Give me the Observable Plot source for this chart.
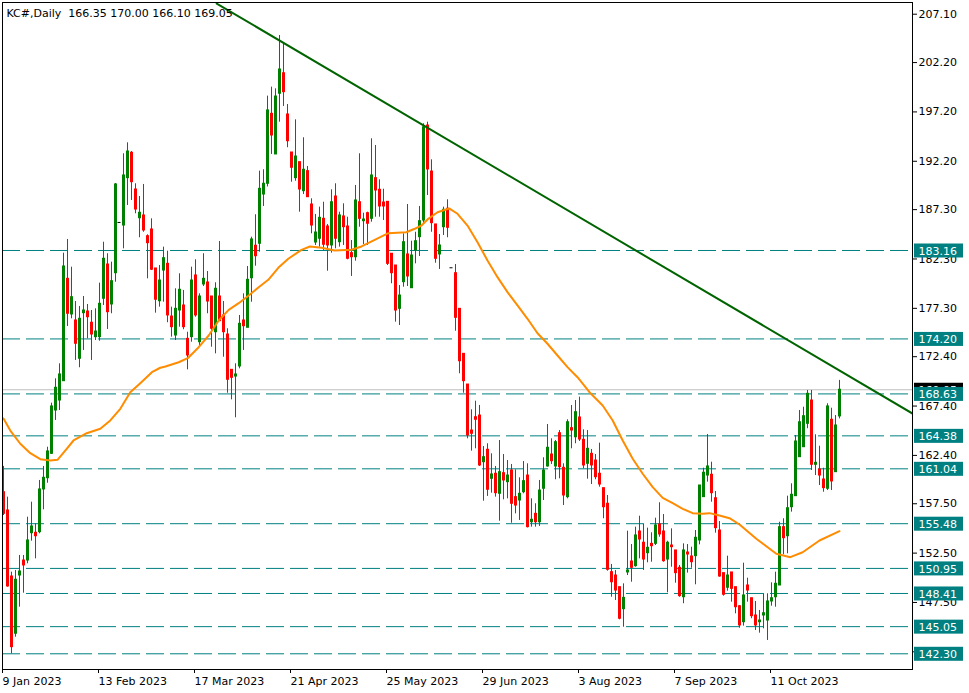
<!DOCTYPE html>
<html>
<head>
<meta charset="utf-8">
<script src="https://cdn.jsdelivr.net/npm/d3@7"></script>
<script src="https://cdn.jsdelivr.net/npm/@observablehq/plot@0.6"></script>
<style>
html, body { margin: 0; padding: 0; background: #fff; overflow: hidden; }
svg { display: block; }
svg text { white-space: pre; }
</style>
</head>
<body>
<div id="chart"></div>
<script>
// ---- data (KC#, daily, 9 Jan – 24 Oct 2023) ----
const symbolName = "KC#,Daily";

const opens = [
  158.67,156.82,150.13,144.33,150.23,151.75,151.75,154.52,154.56,154.62,
  158.95,160.09,162.56,166.95,167.96,169.92,180.29,176.68,176.07,172.19,
  176.81,176.98,175.84,174.38,174.38,178.27,181.74,177.69,180.86,186.00,
  185.69,190.49,193.06,189.34,186.43,186.71,184.61,185.29,181.34,178.02,
  181.13,181.81,176.47,174.55,177.08,177.59,174.21,174.38,180.63,173.87,
  179.72,179.92,178.50,174.88,178.50,176.58,174.65,171.07,170.39,171.41,
  176.07,175.33,180.35,183.64,183.84,188.83,189.92,197.01,192.89,199.04,
  201.12,196.94,193.09,190.49,192.11,189.17,191.20,187.82,183.97,184.35,
  186.37,185.59,183.67,188.63,184.00,186.61,185.59,182.89,182.48,188.05,
  186.13,186.94,186.37,190.49,189.31,188.02,188.09,182.83,181.64,177.25,
  179.95,182.76,179.34,183.16,184.51,186.20,195.82,191.16,185.80,182.76,
  185.52,187.39,181.41,180.86,177.25,172.69,169.58,164.92,166.27,166.44,
  161.71,162.97,160.03,160.54,158.51,160.60,159.69,160.87,158.17,157.83,
  158.67,160.36,155.63,156.48,155.63,159.02,161.28,162.49,161.28,164.65,
  161.14,158.17,165.16,164.24,166.24,163.98,161.55,162.56,161.88,160.54,
  159.08,157.50,150.57,150.23,149.05,146.82,150.54,151.65,151.18,154.69,
  153.55,152.49,153.44,153.44,155.40,154.69,151.85,153.27,152.77,151.01,
  148.03,152.56,152.16,152.19,153.78,158.17,160.36,160.44,158.06,154.79,
  150.47,148.99,150.54,149.05,147.12,145.50,149.22,147.93,146.18,145.50,
  146.18,145.67,147.60,148.03,149.22,155.13,154.21,157.15,158.27,162.22,
  163.23,165.60,167.96,161.45,160.97,159.96,159.02,166.01,160.70,166.35
];
const highs = [
  161.28,158.17,150.57,150.74,152.26,152.26,156.14,157.66,155.47,159.86,
  161.28,163.23,167.69,170.16,171.68,182.89,184.28,181.47,177.99,177.49,
  178.50,177.69,177.08,177.25,179.85,184.00,182.83,181.98,189.95,186.00,
  192.96,194.07,193.19,189.92,188.63,189.85,184.75,186.37,181.34,181.64,
  183.50,183.09,177.42,179.28,180.80,179.11,174.88,181.47,182.22,178.77,
  182.83,181.03,178.50,179.89,184.07,177.99,175.23,171.07,171.68,176.58,
  178.77,181.54,184.51,186.78,191.20,191.34,198.80,199.71,199.54,204.94,
  204.16,197.95,193.09,196.40,192.11,194.58,191.67,188.40,186.81,187.55,
  188.05,185.80,189.31,189.92,187.04,187.89,186.53,184.17,189.75,192.96,
  186.94,187.04,194.48,193.80,190.32,189.37,188.09,182.83,181.64,179.61,
  184.85,187.82,184.10,185.01,187.62,196.00,196.16,192.35,185.80,184.78,
  187.55,188.30,181.41,181.74,177.25,172.69,169.58,167.02,167.89,167.46,
  163.30,163.58,162.56,161.28,163.91,162.49,161.88,161.48,160.94,160.13,
  161.78,161.55,158.00,157.50,159.86,162.16,165.53,164.08,163.91,164.92,
  161.55,166.01,167.46,167.96,168.30,164.99,164.92,163.00,162.49,163.64,
  159.08,158.34,151.35,150.74,149.05,149.39,154.72,153.37,155.13,156.24,
  155.40,155.03,154.56,156.04,157.60,156.41,153.70,154.96,152.77,151.25,
  153.44,153.37,153.10,154.79,159.35,161.10,164.52,161.71,158.74,155.70,
  150.47,152.19,150.54,149.05,147.19,151.48,149.96,147.93,147.60,146.69,
  148.31,148.38,149.49,150.57,155.63,155.98,158.27,159.52,164.42,166.95,
  167.28,168.98,168.98,164.49,163.33,161.10,167.63,167.18,166.44,170.00
];
const lows = [
  156.31,149.05,142.30,143.98,147.02,148.44,151.42,153.71,151.92,154.46,
  156.89,159.58,162.49,165.94,166.95,169.92,175.46,176.24,172.02,171.28,
  173.03,174.21,172.02,174.04,173.97,177.59,175.16,176.75,179.95,186.00,
  183.33,187.72,188.23,186.88,184.45,185.01,180.29,181.13,176.81,177.42,
  177.92,175.84,174.38,174.04,175.39,175.13,171.07,173.87,176.40,173.36,
  179.51,176.75,173.36,172.69,176.00,172.35,168.70,168.03,166.21,171.17,
  173.03,175.33,177.92,181.57,182.99,187.62,189.60,192.89,192.89,196.16,
  197.75,193.57,190.08,190.18,187.04,188.83,188.56,184.85,183.67,183.50,
  183.16,181.06,182.89,183.33,183.50,183.67,182.22,180.53,182.08,185.52,
  183.77,183.67,186.03,186.53,186.53,186.20,181.64,179.79,175.90,175.56,
  179.44,179.51,179.34,181.81,182.55,185.87,188.73,185.01,181.87,181.24,
  184.68,184.45,181.41,174.98,170.67,168.70,164.08,162.83,163.07,161.28,
  157.76,158.24,158.57,158.17,155.73,157.90,158.00,155.53,156.48,155.81,
  158.51,155.05,155.13,155.13,155.20,157.83,161.21,161.48,159.93,160.03,
  157.32,158.00,163.07,163.58,163.81,161.04,159.99,159.45,159.93,159.18,
  155.98,150.67,148.03,147.70,145.74,144.99,150.23,149.55,151.07,151.92,
  150.74,151.52,151.58,153.27,154.11,151.58,148.48,151.07,149.45,148.03,
  147.37,150.47,150.97,149.29,153.34,158.17,159.69,157.66,154.52,150.06,
  148.14,148.64,147.53,146.35,144.89,145.10,147.53,145.85,144.66,144.39,
  144.83,143.65,147.12,147.02,149.22,152.33,152.43,156.65,158.27,162.22,
  163.23,165.10,160.87,160.36,159.35,158.67,158.84,158.84,160.70,166.10
];
const closes = [
  156.48,149.12,142.97,149.80,150.64,151.25,153.78,155.20,154.21,158.95,
  160.13,162.80,167.36,169.25,170.60,181.54,176.75,178.43,173.71,176.24,
  177.08,176.40,174.65,174.95,177.76,182.32,176.91,180.05,189.85,186.00,
  190.76,193.19,190.08,187.31,186.98,185.19,183.90,181.21,178.17,180.12,
  182.38,176.58,175.39,177.25,179.18,175.39,172.52,180.12,176.58,178.50,
  180.29,177.99,175.23,179.28,176.00,174.88,170.06,170.26,170.60,175.73,
  175.49,180.19,184.28,182.58,189.41,189.92,197.35,194.81,198.76,201.50,
  199.20,194.23,191.54,192.68,189.34,191.34,188.56,185.69,184.98,186.47,
  183.74,183.67,188.05,184.35,186.71,185.52,182.32,182.48,188.23,186.37,
  186.30,185.87,190.76,189.24,187.62,187.62,181.81,180.86,177.08,178.60,
  184.00,180.53,182.65,184.10,186.13,195.65,191.37,185.93,182.32,183.67,
  187.28,185.46,181.41,176.34,171.94,169.92,164.42,164.59,166.01,161.38,
  162.22,158.92,160.47,158.57,160.70,159.86,160.36,157.50,157.32,158.51,
  159.79,155.13,155.88,155.63,158.84,160.87,163.17,161.81,163.74,161.21,
  158.34,165.76,164.92,166.78,164.01,161.38,163.07,161.38,160.19,159.45,
  157.15,150.81,149.55,148.71,145.85,147.97,150.74,151.01,154.29,153.88,
  151.85,153.04,153.20,155.30,154.39,151.68,153.55,153.10,150.47,148.14,
  152.77,152.36,151.58,154.05,159.35,160.64,161.28,158.57,155.03,150.13,
  148.28,150.23,148.88,147.02,145.17,148.21,148.71,146.11,145.17,145.67,
  146.41,147.60,147.93,149.39,155.13,154.01,157.05,158.41,163.81,165.76,
  166.37,168.64,161.45,161.65,160.36,159.08,167.36,159.76,165.43,169.05
];

// moving average (orange) at bar positions
const maBars = [0,1.7,4.2,6.7,9.2,11.7,13.5,15.8,17.5,20.8,24.2,26.7,29.2,31.7,34.2,37.1,39.2,40.5,43.8,46.2,
  48.8,51.3,53.8,56.3,58.8,61.3,63.8,66.2,68.7,71.2,74.5,76.6,79.5,82.8,87.0,89.5,92.8,96.2,100.7,102.8,
  104.5,106.2,108.5,111.4,113.5,116.0,118.5,121.0,123.5,126.0,128.5,131.0,133.5,136.0,138.5,141.0,143.5,145.2,146.5,149.8,
  152.3,154.8,157.3,159.8,162.3,164.8,167.3,169.8,172.3,174.8,176.5,179.0,181.5,184.0,188.2,193.2,196.7,199.8,204.0,209.0];
const maValues = [166.14,164.92,163.58,162.62,162.02,161.88,161.95,163.07,163.91,164.65,165.10,165.94,167.12,168.80,169.72,170.83,171.28,171.41,171.84,172.29,
  173.36,174.55,176.07,177.15,177.82,178.60,179.44,180.19,181.41,182.32,183.23,183.57,183.43,183.16,183.23,183.57,184.24,184.91,185.01,185.36,
  185.69,186.37,187.04,187.42,186.88,185.69,184.00,182.15,180.46,178.94,177.59,176.24,174.78,173.71,172.52,171.34,170.32,169.48,168.80,167.46,
  165.94,163.91,162.06,160.54,159.18,158.10,157.56,156.99,156.55,156.48,156.55,156.31,156.04,155.40,153.95,152.43,152.09,152.59,153.78,154.72];

// descending trend line (two anchor points: bar position, price)
const trendBars = [53.3, 227.3];
const trendValues = [208.18, 166.63];

// horizontal support / resistance levels
const levels = [183.16, 174.20, 168.63, 164.38, 161.04, 155.48, 150.95, 148.41, 145.05, 142.30];

// axis ticks
const priceTicks = [207.10, 202.20, 197.20, 192.20, 187.30, 182.30, 177.30, 172.40, 167.40, 162.40, 157.50, 152.50, 147.50, 142.50];
const dateTickBars = [0, 24, 48, 72, 96, 120, 144, 168, 192];
const dateTickLabels = ["9 Jan 2023", "13 Feb 2023", "17 Mar 2023", "21 Apr 2023", "25 May 2023", "29 Jun 2023", "3 Aug 2023", "7 Sep 2023", "11 Oct 2023"];

// ---- build tables ----
const bars = opens.map((o, i) => ({i, o, h: highs[i], l: lows[i], c: closes[i]}));
const ma = maBars.map((b, k) => ({b, v: maValues[k]}));
const trend = trendBars.map((b, k) => ({b, v: trendValues[k]}));
const last = bars[bars.length - 1];
const bid = last.c;
const header = symbolName + "  " + [last.o, last.h, last.l, last.c].map(v => v.toFixed(2)).join(" ");

const isFlat = d => d.h === d.l;
const isUp = d => !isFlat(d) && d.c >= d.o;
const isDown = d => !isFlat(d) && d.c < d.o;

const GREEN = "#008000", RED = "#ff0000", TEAL = "#008080";

const chart = Plot.plot({
  width: 969,
  height: 693,
  marginLeft: 2,
  marginRight: 57,
  marginTop: 2,
  marginBottom: 24,
  style: {fontFamily: "DejaVu Sans", fontSize: "11px", background: "#fff", color: "#000", overflow: "visible"},
  x: {type: "linear", domain: [-0.25, 227.25]},
  y: {type: "linear", domain: [140.708, 208.286]},
  marks: [
    Plot.ruleY(levels, {stroke: TEAL, strokeDasharray: "18,6"}),
    Plot.ruleY([bid], {stroke: "#c0c0c0"}),
    // wicks
    Plot.ruleX(bars, {filter: isUp, x: "i", y1: "h", y2: "l", stroke: GREEN}),
    Plot.ruleX(bars, {filter: isDown, x: "i", y1: "h", y2: "l", stroke: RED}),
    // bodies
    Plot.ruleX(bars, {filter: isUp, x: "i", y1: "c", y2: "o", stroke: GREEN, strokeWidth: 3, insetTop: -0.5, insetBottom: -0.5}),
    Plot.ruleX(bars, {filter: isDown, x: "i", y1: "o", y2: "c", stroke: RED, strokeWidth: 3, insetTop: -0.5, insetBottom: -0.5}),
    // flat holiday bars
    Plot.ruleY(bars, {filter: isFlat, y: "c", x1: d => d.i - 0.375, x2: d => d.i + 0.375, stroke: "#000"}),
    // moving average
    Plot.line(ma, {x: "b", y: "v", stroke: "#ff8c00", strokeWidth: 2}),
    // trend line
    Plot.line(trend, {x: "b", y: "v", stroke: "#006400", strokeWidth: 2, clip: true}),
    Plot.frame({stroke: "#000"}),
    Plot.axisY({anchor: "right", ticks: priceTicks, tickFormat: d => d.toFixed(2), tickSize: 4, tickPadding: 2, label: null}),
    Plot.axisX({anchor: "bottom", ticks: dateTickBars, tickFormat: d => dateTickLabels[dateTickBars.indexOf(d)], tickSize: 4, tickPadding: 4, textAnchor: "start", dx: -1, label: null}),
    // bid price label (black), partly hidden below the level labels
    Plot.rect([bid], {y1: d => d, y2: d => d, fill: "#000", insetLeft: 912, insetRight: -51, insetTop: -6.5, insetBottom: -7.5}),
    Plot.text([bid], {y: d => d, text: d => d.toFixed(2), frameAnchor: "right", textAnchor: "start", dx: 6, dy: 1, fill: "#fff"}),
    // level labels
    Plot.rect(levels, {y1: d => d, y2: d => d, fill: TEAL, insetLeft: 912, insetRight: -51, insetTop: -6.5, insetBottom: -7.5}),
    Plot.text(levels, {y: d => d, text: d => d.toFixed(2), frameAnchor: "right", textAnchor: "start", dx: 6, dy: 1, fill: "#fff"}),
    // header
    Plot.text([header], {text: d => d, frameAnchor: "top-left", textAnchor: "start", lineAnchor: "top", dx: 4, dy: 7, fill: "#000"})
  ]
});
document.getElementById("chart").appendChild(chart);
</script>
</body>
</html>
